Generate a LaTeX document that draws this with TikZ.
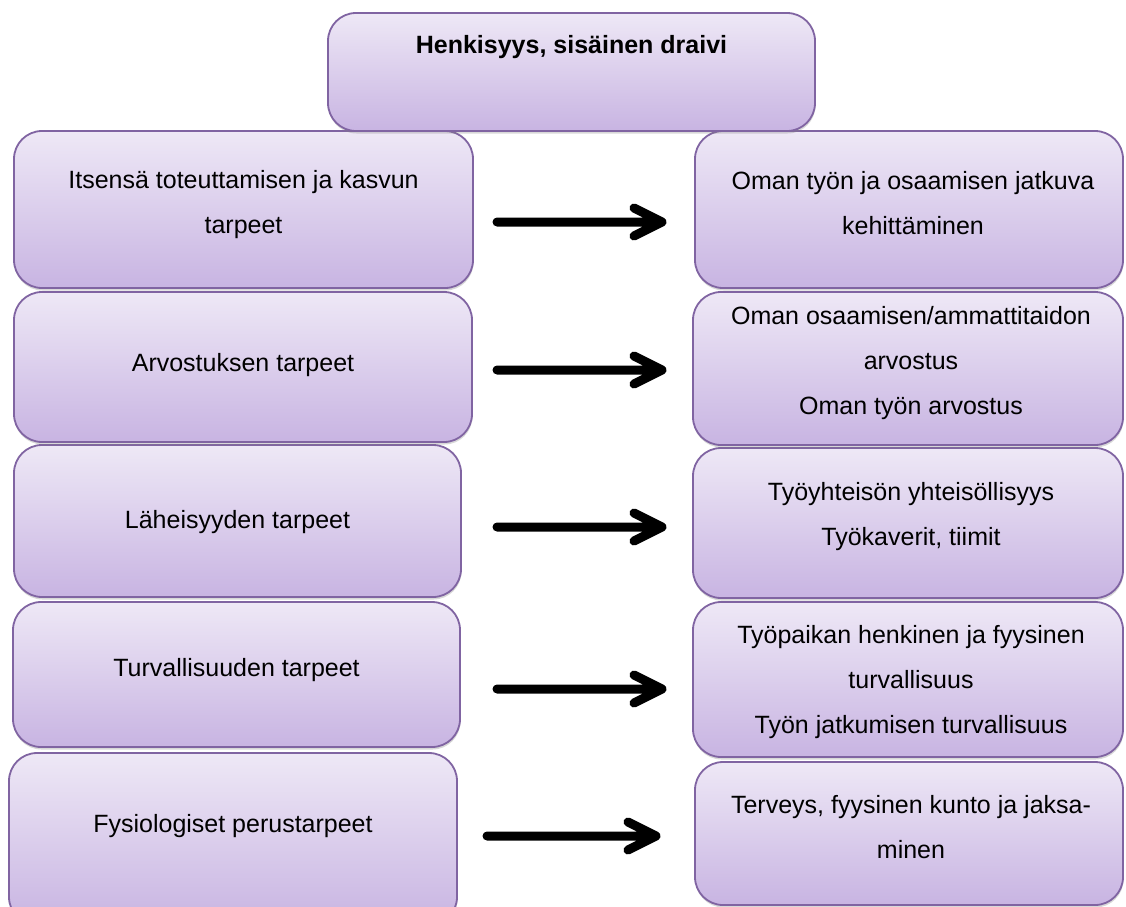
\documentclass[tikz,border=0pt]{standalone}
\usepackage{fontspec}
\setmainfont{Liberation Sans}
\usetikzlibrary{shadows,calc}
\definecolor{boxborder}{HTML}{8064A2}
\definecolor{boxtop}{HTML}{EEE8F6}
\definecolor{boxbot}{HTML}{C8B4E2}
\tikzset{
  box/.style={draw=boxborder, line width=1.8pt, rounded corners=28pt,
    top color=boxtop, bottom color=boxbot,
    drop shadow={shadow xshift=0.5pt, shadow yshift=-2.5pt, opacity=0.3},
    inner sep=0pt, outer sep=0pt, anchor=north west},
  lbl/.style={anchor=base, inner sep=0pt, font=\fontsize{25}{45}\selectfont},
  arr/.style={line width=9pt, line cap=round, line join=round, draw=black},
}
\newcommand\purplebox[5]{\node[box, minimum width={#4-#2}, minimum height={#5-#3}] (#1) at (#2,#3) {};}
\newcommand\lines[1]{\begin{tabular}[t]{@{}c@{}}#1\end{tabular}}
\begin{document}
\begin{tikzpicture}[x=1pt, y=-1pt]
\fill[white] (0,0) rectangle (1126,906);
\useasboundingbox (0,0) rectangle (1126,906);
% boxes
\purplebox{L5}{9}{753}{457}{925}
\purplebox{R5}{695}{762}{1123}{905}
\purplebox{L4}{13}{602}{460}{747}
\purplebox{R4}{693}{602}{1123}{757}
\purplebox{L3}{14}{445}{461}{597}
\purplebox{R3}{693}{448}{1123}{598}
\purplebox{L2}{14}{292}{472}{442}
\purplebox{R2}{693}{292}{1123}{445}
\purplebox{L1}{14}{131}{473}{288}
\purplebox{R1}{695}{131}{1123}{288}
\purplebox{T}{328}{13}{815}{131}
% texts
\node[lbl] (tT) at (571.5,53) {\bfseries Henkisyys, sisäinen draivi};
\node[lbl] (tL1) at (243.5,188) {\lines{Itsensä toteuttamisen ja kasvun\\tarpeet}};
\node[lbl] (tL2) at (243,371) {Arvostuksen tarpeet};
\node[lbl] (tL3) at (237.5,528) {Läheisyyden tarpeet};
\node[lbl] (tL4) at (236.5,676) {Turvallisuuden tarpeet};
\node[lbl] (tL5) at (233,832) {Fysiologiset perustarpeet};
\node[lbl] (tR1) at (913,189) {\lines{Oman työn ja osaamisen jatkuva\\kehittäminen}};
\node[lbl] (tR2) at (911,324) {\lines{Oman osaamisen/ammattitaidon\\arvostus\\Oman työn arvostus}};
\node[lbl] (tR3) at (911,500) {\lines{Työyhteisön yhteisöllisyys\\Työkaverit, tiimit}};
\node[lbl] (tR4) at (911,643) {\lines{Työpaikan henkinen ja fyysinen\\turvallisuus\\Työn jatkumisen turvallisuus}};
\node[lbl] (tR5) at (911,813) {\lines{Terveys, fyysinen kunto ja jaksa-\\minen}};
% arrows
\coordinate (a1s) at (497,222); \coordinate (a1e) at (662,222);
\coordinate (a2s) at (497,370); \coordinate (a2e) at (662,370);
\coordinate (a3s) at (497,527); \coordinate (a3e) at (662,527);
\coordinate (a4s) at (497,689); \coordinate (a4e) at (662,689);
\coordinate (a5s) at (487,836); \coordinate (a5e) at (656,836);
\foreach \i in {1,...,5}{
  \draw[arr] (a\i s) -- (a\i e) -- +(-28,-14) (a\i e) -- +(-28,14);
}
\end{tikzpicture}
\end{document}
